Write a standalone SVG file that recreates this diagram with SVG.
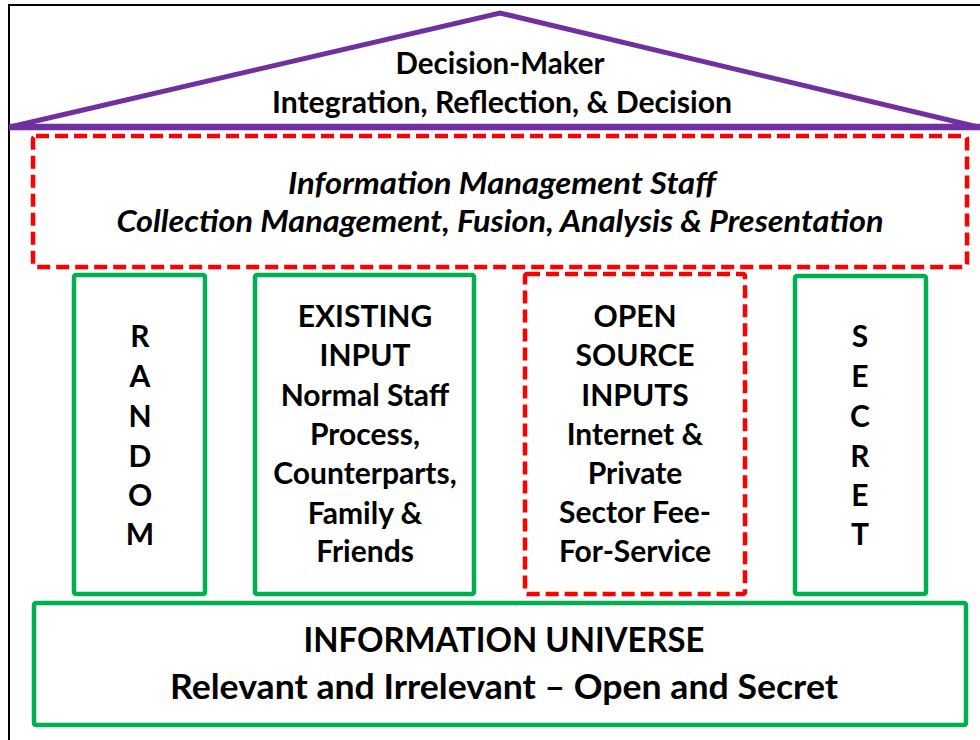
<svg xmlns="http://www.w3.org/2000/svg" width="980" height="740" viewBox="0 0 980 740">
<style>
text{font-family:Lato,"Open Sans","Liberation Sans",sans-serif;font-weight:bold;fill:#000;text-anchor:middle}
.t26{font-size:30px}
.roof{font-size:30px}
.it{font-style:italic;font-size:30px}
.t30{font-size:34px}
.green{fill:#fff;stroke:#00B050;stroke-width:4.5}
.red{fill:#fff;stroke:#FF0000;stroke-width:4.5;stroke-dasharray:13 6}
</style>
<rect width="980" height="740" fill="#fff"/>
<path d="M9,750 V5 H990" fill="none" stroke="#000" stroke-width="2"/>
<g id="roof">
<path d="M10,127 L500,13 L978,127 Z" fill="#fff" stroke="#7030A0" stroke-width="5" stroke-linejoin="miter"/>
<line x1="9" y1="127" x2="980" y2="127" stroke="#7030A0" stroke-width="6.5"/>
<text class="roof" x="500" y="74" textLength="209" lengthAdjust="spacingAndGlyphs">Decision-Maker</text>
<text class="roof" x="502" y="113" textLength="460" lengthAdjust="spacingAndGlyphs">Integration, Reflection, &amp; Decision</text>
</g>
<g id="staff">
<rect class="red" x="33" y="136" width="934" height="131" rx="3"/>
<text class="it" x="502" y="194" textLength="428" lengthAdjust="spacingAndGlyphs">Information Management Staff</text>
<text class="it" x="500" y="232" textLength="767" lengthAdjust="spacingAndGlyphs">Collection Management, Fusion, Analysis &amp; Presentation</text>
</g>
<g id="random">
<rect class="green" x="74" y="275" width="131" height="319" rx="2"/>
<text class="t26" x="140" y="347">R</text>
<text class="t26" x="140" y="387">A</text>
<text class="t26" x="140" y="427">N</text>
<text class="t26" x="140" y="467">D</text>
<text class="t26" x="140" y="506">O</text>
<text class="t26" x="140" y="545">M</text>
</g>
<g id="existing">
<rect class="green" x="255" y="275" width="219" height="319" rx="2"/>
<text class="t26" x="365" y="327">EXISTING</text>
<text class="t26" x="365" y="366">INPUT</text>
<text class="t26" x="365" y="406">Normal Staff</text>
<text class="t26" x="365" y="445">Process,</text>
<text class="t26" x="365" y="484">Counterparts,</text>
<text class="t26" x="365" y="524">Family &amp;</text>
<text class="t26" x="365" y="562">Friends</text>
</g>
<g id="open">
<rect class="red" x="525" y="274" width="220" height="320" rx="2"/>
<text class="t26" x="635" y="327">OPEN</text>
<text class="t26" x="635" y="366">SOURCE</text>
<text class="t26" x="635" y="406">INPUTS</text>
<text class="t26" x="635" y="445">Internet &amp;</text>
<text class="t26" x="635" y="484">Private</text>
<text class="t26" x="635" y="523">Sector Fee-</text>
<text class="t26" x="635" y="562">For-Service</text>
</g>
<g id="secret">
<rect class="green" x="795" y="276" width="131" height="318" rx="2"/>
<text class="t26" x="860" y="347">S</text>
<text class="t26" x="860" y="387">E</text>
<text class="t26" x="860" y="427">C</text>
<text class="t26" x="860" y="467">R</text>
<text class="t26" x="860" y="506">E</text>
<text class="t26" x="860" y="545">T</text>
</g>
<g id="universe">
<rect class="green" x="34" y="603" width="932" height="122" rx="2"/>
<text class="t30" x="504" y="652" textLength="401" lengthAdjust="spacingAndGlyphs">INFORMATION UNIVERSE</text>
<text class="t30" x="504" y="699" textLength="668" lengthAdjust="spacingAndGlyphs">Relevant and Irrelevant – Open and Secret</text>
</g>
<g id="connectors"/>
</svg>
